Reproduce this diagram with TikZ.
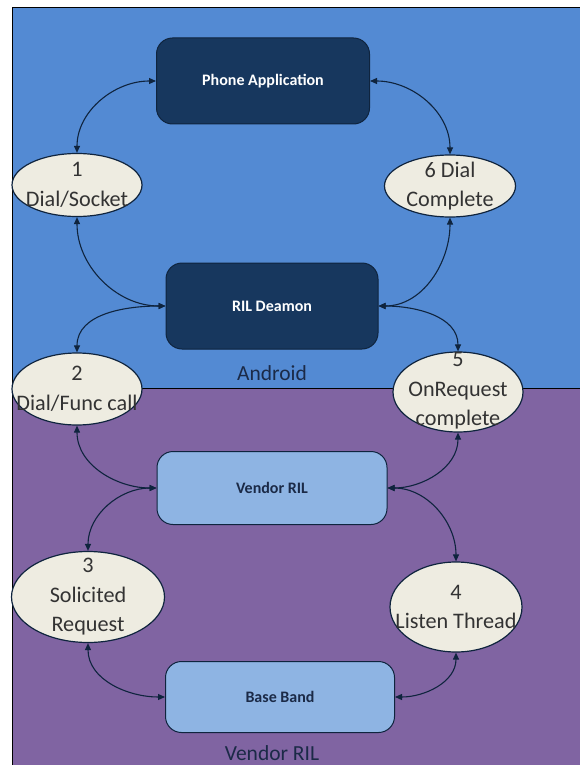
\documentclass[tikz,border=0pt]{standalone}
\usepackage{fontspec}
\setmainfont{Carlito}
\usetikzlibrary{arrows.meta,shapes.geometric}
\definecolor{bgblue}{HTML}{538AD3}
\definecolor{bgpurple}{HTML}{8064A2}
\definecolor{darkbox}{HTML}{17375E}
\definecolor{lightbox}{HTML}{8EB4E3}
\definecolor{ellfill}{HTML}{EEECE1}
\definecolor{linecol}{HTML}{0F243E}
\definecolor{txtdark}{HTML}{333333}
\definecolor{regtxt}{HTML}{1B2A47}
\begin{document}
\begin{tikzpicture}[x=1pt,y=1pt,
  darkstep/.style={draw=linecol, line width=1pt, fill=darkbox, rounded corners=16pt, minimum width=213pt, minimum height=86pt, text=white, font=\fontsize{16}{19}\selectfont\bfseries, inner sep=0pt},
  lightstep/.style={draw=linecol, line width=1pt, fill=lightbox, rounded corners=16pt, minimum width=230pt, minimum height=72pt, text=regtxt, font=\fontsize{16}{19}\selectfont\bfseries, inner sep=0pt},
  ell/.style={ellipse, draw=linecol, line width=1.2pt, fill=ellfill, inner sep=0pt},
  elltext/.style={align=center, text=txtdark, font=\fontsize{22.2}{29.5}\selectfont, inner sep=0pt},
  conn/.style={draw=linecol, line width=1.1pt, {Triangle[length=7pt,width=6pt]}-{Triangle[length=7pt,width=6pt]}},
  region/.style={font=\fontsize{21.5}{26}\selectfont, text=regtxt, inner sep=0pt}
]
\useasboundingbox (0,0) rectangle (580,-765);
\fill[white] (0,0) rectangle (580,-765);
% backgrounds
\fill[bgblue] (12,-8) rectangle (590,-388);
\fill[bgpurple] (12,-388) rectangle (590,-775);
\draw[black, line width=1pt] (12,-775) -- (12,-8) -- (590,-8);
\draw[black, line width=1pt] (12,-388) -- (590,-388);

% boxes
\node[darkstep] (app) at (263,-81) {Phone Application};
\node[darkstep, minimum width=212pt] (ril) at (272,-306) {RIL Deamon};
\node[lightstep, minimum height=73pt] (vendor) at (272,-488) {Vendor RIL};
\node[lightstep, minimum width=229pt, minimum height=71pt] (base) at (280,-697) {Base Band};

% ellipses
\node[ell, minimum width=130pt, minimum height=63pt] (e1) at (77,-185) {};
\node[ell, minimum width=131pt, minimum height=62pt] (e6) at (450,-186) {};
\node[ell, minimum width=130pt, minimum height=72pt] (e2) at (77,-389) {};
\node[ell, minimum width=130pt, minimum height=80pt] (e5) at (458,-392) {};
\node[ell, minimum width=153pt, minimum height=91pt] (e3) at (88,-597) {};
\node[ell, minimum width=132pt, minimum height=90pt] (e4) at (456,-607) {};

\node[elltext] (t1) at (e1.center) {1\\Dial/Socket};
\node[elltext] (t6) at (e6.center) {6 Dial\\Complete};
\node[elltext] (t2) at (e2.center) {2\\Dial/Func call};
\node[elltext] (t5) at (458,-391) {5\\OnRequest\\complete};
\node[elltext] (t3) at (e3.center) {3\\Solicited\\Request};
\node[elltext] (t4) at (e4.center) {4\\Listen Thread};

% region labels
\node[region] (android) at (272,-373) {Android};
\node[region] (vendorlbl) at (272,-753) {Vendor RIL};

% connectors
\draw[conn] (app.west) to[out=180,in=90] (e1.north);
\draw[conn] (app.east) to[out=0,in=90] (e6.north);
\draw[conn] (e1.south) to[out=-90,in=180] (ril.west);
\draw[conn] (ril.west) to[out=180,in=90] (e2.north);
\draw[conn] (e6.south) to[out=-90,in=0] (ril.east);
\draw[conn] (ril.east) to[out=0,in=90] (e5.north);
\draw[conn] (e2.south) to[out=-90,in=180] (vendor.west);
\draw[conn] (vendor.west) to[out=180,in=90] (e3.north);
\draw[conn] (e5.south) to[out=-90,in=0] (vendor.east);
\draw[conn] (vendor.east) to[out=0,in=90] (e4.north);
\draw[conn] (e3.south) to[out=-90,in=180] (base.west);
\draw[conn] (e4.south) to[out=-90,in=0] (base.east);
\end{tikzpicture}
\end{document}
